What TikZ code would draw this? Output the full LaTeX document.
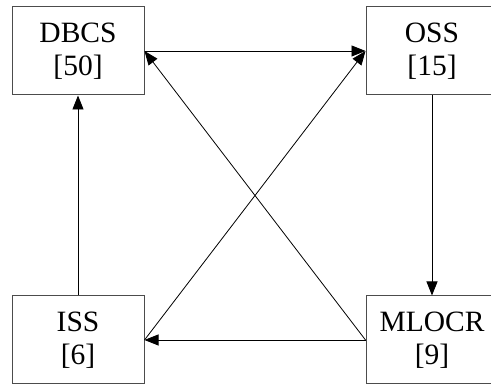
\documentclass[tikz,border=0pt]{standalone}
\usepackage{fontspec}
\setmainfont{Liberation Serif}
\usetikzlibrary{arrows.meta}
\begin{document}
\begin{tikzpicture}[x=1pt,y=1pt,
                    thin,>={Triangle[length=14pt,width=11pt]},
                    block/.style={rectangle,draw=black!70,line width=1pt,fill=white,
                                  minimum width=132pt,minimum height=88pt,inner sep=0pt,
                                  align=center,font=\fontsize{29.5}{33}\selectfont}
                   ]
  \clip (0,0) rectangle (491,385);
  \useasboundingbox (0,0) rectangle (491,385);
  \node[block] (dbcs) at (78,334) {DBCS\\{[50]}};
  \node[block] (oss) at (432,334) {OSS\\{[15]}};
  \node[block] (iss) at (78,45) {ISS\\{[6]}};
  \node[block] (mlocr) at (432,45) {MLOCR\\{[9]}};

  \path[draw,line width=0.8pt]%
   (dbcs.east) edge [->] node {} (oss.west)
   (oss.south) edge [->] node {} (mlocr.north)
   (mlocr.west) edge [->] node {} (iss.east)
   (iss.north) edge [->] node {} (dbcs.south)
   (mlocr.west) edge [->] node {} (dbcs.east)
   (iss.east) edge [->] node {} (oss.west);
\end{tikzpicture}
\end{document}
